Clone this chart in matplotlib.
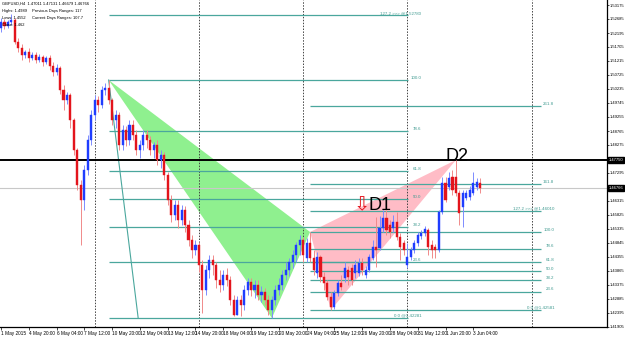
import matplotlib
matplotlib.use("Agg")
import matplotlib.pyplot as plt
from matplotlib.patches import Polygon
import numpy as np

# ---------------- data (GBPUSD, H4) ----------------
opens = [1.5237, 1.5258, 1.5244, 1.5258, 1.5265, 1.5188, 1.5167, 1.5142, 1.5153, 1.5132,
         1.5142, 1.5125, 1.5135, 1.5118, 1.5132, 1.5104, 1.5083, 1.5097, 1.5020, 1.4985,
         1.5002, 1.4915, 1.4810, 1.4688, 1.4635, 1.4740, 1.4845, 1.4932, 1.4985, 1.4967,
         1.5020, 1.5027, 1.4985, 1.4915, 1.4932, 1.4827, 1.4880, 1.4845, 1.4898, 1.4862,
         1.4810, 1.4827, 1.4862, 1.4845, 1.4810, 1.4827, 1.4775, 1.4792, 1.4722, 1.4635,
         1.4582, 1.4617, 1.4565, 1.4600, 1.4547, 1.4495, 1.4460, 1.4477, 1.4407, 1.4320,
         1.4390, 1.4425, 1.4407, 1.4355, 1.4337, 1.4372, 1.4355, 1.4285, 1.4232, 1.4285,
         1.4267, 1.4320, 1.4348, 1.4320, 1.4337, 1.4302, 1.4313, 1.4285, 1.4250, 1.4285,
         1.4320, 1.4337, 1.4372, 1.4390, 1.4418, 1.4442, 1.4477, 1.4495, 1.4432, 1.4484,
         1.4432, 1.4379, 1.4436, 1.4366, 1.4344, 1.4296, 1.4260, 1.4310, 1.4344, 1.4362,
         1.4390, 1.4397, 1.4380, 1.4380, 1.4414, 1.4372, 1.4390, 1.4432, 1.4470, 1.4467,
         1.4537, 1.4572, 1.4547, 1.4537, 1.4558, 1.4505, 1.4484, 1.4407, 1.4436, 1.4460,
         1.4484, 1.4509, 1.4520, 1.4530, 1.4477, 1.4470, 1.4460, 1.4593, 1.4694, 1.4680,
         1.4716, 1.4716, 1.4660, 1.4610, 1.4642, 1.4645, 1.4660, 1.4680, 1.4694]
highs = [1.5272, 1.5268, 1.5265, 1.5286, 1.5272, 1.5202, 1.5181, 1.5160, 1.5167, 1.5153,
         1.5153, 1.5146, 1.5142, 1.5139, 1.5142, 1.5118, 1.5111, 1.5104, 1.5037, 1.5013,
         1.5009, 1.4922, 1.4817, 1.4705, 1.4757, 1.4862, 1.4950, 1.5002, 1.4999, 1.5034,
         1.5044, 1.5055, 1.4992, 1.4950, 1.4943, 1.4898, 1.4894, 1.4915, 1.4915, 1.4880,
         1.4845, 1.4880, 1.4880, 1.4859, 1.4838, 1.4845, 1.4810, 1.4803, 1.4733, 1.4652,
         1.4635, 1.4635, 1.4617, 1.4614, 1.4565, 1.4512, 1.4495, 1.4488, 1.4425, 1.4407,
         1.4442, 1.4442, 1.4418, 1.4390, 1.4390, 1.4397, 1.4369, 1.4302, 1.4299, 1.4302,
         1.4337, 1.4362, 1.4362, 1.4355, 1.4355, 1.4334, 1.4327, 1.4302, 1.4299, 1.4337,
         1.4362, 1.4390, 1.4418, 1.4432, 1.4460, 1.4488, 1.4512, 1.4505, 1.4502, 1.4523,
         1.4460, 1.4453, 1.4442, 1.4383, 1.4355, 1.4313, 1.4320, 1.4355, 1.4372, 1.4418,
         1.4404, 1.4411, 1.4425, 1.4432, 1.4432, 1.4404, 1.4446, 1.4495, 1.4575, 1.4579,
         1.4600, 1.4600, 1.4565, 1.4582, 1.4593, 1.4520, 1.4495, 1.4484, 1.4470, 1.4495,
         1.4523, 1.4530, 1.4544, 1.4537, 1.4495, 1.4481, 1.4600, 1.4716, 1.4716, 1.4733,
         1.4740, 1.4775, 1.4670, 1.4670, 1.4670, 1.4684, 1.4733, 1.4712, 1.4712]
lows = [1.5223, 1.5233, 1.5237, 1.5247, 1.5181, 1.5153, 1.5125, 1.5132, 1.5118, 1.5125,
        1.5114, 1.5118, 1.5104, 1.5111, 1.5090, 1.5069, 1.5072, 1.5006, 1.4950, 1.4971,
        1.4887, 1.4792, 1.4670, 1.4477, 1.4600, 1.4722, 1.4827, 1.4915, 1.4943, 1.4957,
        1.5002, 1.4971, 1.4898, 1.4887, 1.4810, 1.4810, 1.4824, 1.4827, 1.4845, 1.4792,
        1.4782, 1.4810, 1.4817, 1.4792, 1.4782, 1.4757, 1.4747, 1.4705, 1.4617, 1.4558,
        1.4565, 1.4537, 1.4547, 1.4523, 1.4474, 1.4432, 1.4442, 1.4383, 1.4239, 1.4302,
        1.4362, 1.4372, 1.4327, 1.4313, 1.4320, 1.4334, 1.4267, 1.4229, 1.4232, 1.4229,
        1.4250, 1.4302, 1.4299, 1.4292, 1.4285, 1.4278, 1.4267, 1.4232, 1.4222, 1.4267,
        1.4302, 1.4320, 1.4355, 1.4369, 1.4397, 1.4418, 1.4442, 1.4418, 1.4418, 1.4418,
        1.4372, 1.4362, 1.4348, 1.4320, 1.4285, 1.4250, 1.4254, 1.4299, 1.4320, 1.4348,
        1.4337, 1.4337, 1.4362, 1.4369, 1.4372, 1.4362, 1.4383, 1.4425, 1.4400, 1.4460,
        1.4523, 1.4512, 1.4502, 1.4523, 1.4495, 1.4425, 1.4442, 1.4397, 1.4425, 1.4450,
        1.4474, 1.4498, 1.4509, 1.4442, 1.4432, 1.4432, 1.4453, 1.4586, 1.4628, 1.4670,
        1.4652, 1.4649, 1.4547, 1.4540, 1.4635, 1.4635, 1.4652, 1.4670, 1.4660]
closes = [1.5258, 1.5244, 1.5258, 1.5265, 1.5188, 1.5167, 1.5142, 1.5153, 1.5132, 1.5142,
          1.5125, 1.5135, 1.5118, 1.5132, 1.5104, 1.5083, 1.5097, 1.5020, 1.4985, 1.5002,
          1.4915, 1.4810, 1.4688, 1.4635, 1.4740, 1.4845, 1.4932, 1.4985, 1.4967, 1.5020,
          1.5027, 1.4985, 1.4915, 1.4932, 1.4827, 1.4880, 1.4845, 1.4898, 1.4862, 1.4810,
          1.4827, 1.4862, 1.4845, 1.4810, 1.4827, 1.4775, 1.4792, 1.4722, 1.4635, 1.4582,
          1.4617, 1.4565, 1.4600, 1.4547, 1.4495, 1.4460, 1.4477, 1.4407, 1.4320, 1.4390,
          1.4425, 1.4407, 1.4355, 1.4337, 1.4372, 1.4355, 1.4285, 1.4232, 1.4285, 1.4267,
          1.4320, 1.4348, 1.4320, 1.4337, 1.4302, 1.4313, 1.4285, 1.4250, 1.4285, 1.4320,
          1.4337, 1.4372, 1.4390, 1.4418, 1.4442, 1.4477, 1.4495, 1.4442, 1.4484, 1.4432,
          1.4390, 1.4436, 1.4366, 1.4344, 1.4296, 1.4260, 1.4310, 1.4344, 1.4330, 1.4397,
          1.4366, 1.4355, 1.4407, 1.4414, 1.4390, 1.4390, 1.4436, 1.4470, 1.4460, 1.4537,
          1.4572, 1.4530, 1.4523, 1.4558, 1.4505, 1.4470, 1.4460, 1.4436, 1.4460, 1.4484,
          1.4512, 1.4520, 1.4533, 1.4470, 1.4460, 1.4460, 1.4593, 1.4694, 1.4635, 1.4712,
          1.4670, 1.4660, 1.4590, 1.4660, 1.4660, 1.4670, 1.4694, 1.4698, 1.46766]

date_tick_bars = [0, 8, 16, 24, 32, 40, 48, 56, 64, 72, 80, 88, 96, 104, 112, 120, 128, 136]
date_tick_labels = ["1 May 2015", "4 May 20:00", "6 May 04:00", "7 May 12:00", "10 May 20:00",
                    "12 May 04:00", "13 May 12:00", "14 May 20:00", "18 May 04:00", "19 May 12:00",
                    "20 May 20:00", "24 May 04:00", "25 May 12:00", "26 May 20:00", "28 May 04:00",
                    "31 May 12:00", "1 Jun 20:00", "3 Jun 04:00"]
separator_bars = [27, 57, 87, 117, 153]

price_ticks = [1.53175, 1.52685, 1.52195, 1.51705, 1.51215, 1.50725, 1.50235, 1.49745,
               1.49255, 1.48765, 1.48275, 1.47785, 1.47295, 1.46805, 1.46315, 1.45825,
               1.45335, 1.44845, 1.44355, 1.43865, 1.43375, 1.42885, 1.42395, 1.41905]

# Fibonacci set A (big swing) and set B (small swing)
fibA_zero, fibA_hundred = 1.4222, 1.5055
fibA_span = (31, 117.2)
fibA_levels = [0.0, 23.6, 38.2, 50.0, 61.8, 78.6, 100.0, 127.2]
fibA_texts = ["0.0 @1.42281", "23.6", "38.2", "50.0", "61.8", "78.6", "100.0", "127.2 >>> @1.52780"]

fibB_zero, fibB_hundred = 1.4250, 1.4523
fibB_span = (89, 155.5)
fibB_levels = [0.0, 23.6, 38.2, 50.0, 61.8, 78.6, 100.0, 127.2, 161.8, 261.8]
fibB_texts = ["0.0 @1.42581", "23.6", "38.2", "50.0", "61.8", "78.6", "100.0",
              "127.2 >>> @1.46010", "161.8", "261.8"]

# harmonic pattern points (bar, price)
green_tri = [(31, 1.5055), (89, 1.4523), (78, 1.4222)]
pink_tri = [(89, 1.4523), (95, 1.4250), (131, 1.4775)]
teal_leg = [(31, 1.5055), (39.5, 1.4222)]
d2_level = 1.4775
d1_label = (105.7, 1.4600)
d1_arrow = (103.8, 1.4598)
d2_label = (127.9, 1.4772)

info_lines = [("GBPUSD,H4  1.47011 1.47131 1.46679 1.46766", ""),
              ("Highs: 1.4989", "Previous Days Ranges: 117"),
              ("Lows: 1.4552", "Current Days Ranges: 107.7"),
              ("Close: 1.462", "")]

# ---------------- drawing ----------------
plt.rcParams['font.family'] = ['Liberation Sans', 'DejaVu Sans']
fig = plt.figure(figsize=(6.25, 3.37), dpi=100)
ax = fig.add_axes([0, 10 / 337, 607 / 625, 327 / 337])

o = np.array(opens); h = np.array(highs); l = np.array(lows); c = np.array(closes)
x = np.arange(len(o))
up = c >= o

bull, bear = '#1f3dff', '#e3141c'
bull_w, bear_w = '#7d8cff', '#f08a8a'
teal = '#4aa79d'

# triangles
ax.add_patch(Polygon(green_tri, closed=True, facecolor='#8ff08f', edgecolor='none', zorder=1))
ax.add_patch(Polygon(pink_tri, closed=True, facecolor='#ffbcc6', edgecolor='none', zorder=1))

# separators
for b in separator_bars:
    ax.axvline(b, color='#444444', lw=0.7, ls=(0, (1.5, 1.5)), zorder=1.5)

# fib sets
def draw_fib(z, hnd, span, levels, texts):
    for lv, t in zip(levels, texts):
        p = z + lv / 100.0 * (hnd - z)
        ax.hlines(p, span[0], span[1], color=teal, lw=0.9, zorder=2)
        ax.annotate(t, xy=(span[1], p), xytext=(9.5, 0.2), textcoords='offset points',
                    ha='right', va='bottom', fontsize=3.2, color='#3f9a90', zorder=2)

draw_fib(fibA_zero, fibA_hundred, fibA_span, fibA_levels, fibA_texts)
draw_fib(fibB_zero, fibB_hundred, fibB_span, fibB_levels, fibB_texts)

ax.plot([p[0] for p in teal_leg], [p[1] for p in teal_leg], color=teal, lw=0.8, zorder=2)

# horizontal lines
ax.axhline(d2_level, color='black', lw=1.4, zorder=2.5)
ax.axhline(c[-1], color='#c8c8c8', lw=0.8, zorder=1.6)

# candles
ax.vlines(x[up], l[up], h[up], color=bull_w, lw=0.7, zorder=3)
ax.vlines(x[~up], l[~up], h[~up], color=bear_w, lw=0.7, zorder=3)
ax.bar(x[up], np.maximum(c[up] - o[up], 0.00012), bottom=o[up], width=0.6,
       color=bull, edgecolor=bull, lw=0.3, zorder=4)
ax.bar(x[~up], np.maximum(o[~up] - c[~up], 0.00012), bottom=c[~up], width=0.6,
       color=bear, edgecolor=bear, lw=0.3, zorder=4)

# pattern labels
ax.text(d1_label[0], d1_label[1], "D1", fontsize=13, color='black', ha='left', va='baseline', zorder=5)
ax.text(d2_label[0], d2_label[1], "D2", fontsize=13, color='black', ha='left', va='baseline', zorder=5)
ax.text(d1_arrow[0], d1_arrow[1], "\u21e9", fontsize=14, color='#e3141c', ha='center',
        va='baseline', family=['DejaVu Sans'], zorder=5)

# axes
ax.set_xlim(-0.288, 174.5)
ax.set_ylim(1.41905, 1.5335)
for s in ['top', 'left']:
    ax.spines[s].set_visible(False)
ax.spines['right'].set_linewidth(0.9)
ax.spines['bottom'].set_linewidth(0.9)

narrow = ['Liberation Sans Narrow', 'Liberation Sans', 'DejaVu Sans']
ax.yaxis.tick_right()
ax.set_yticks(price_ticks)
ax.set_yticklabels([f"{v:.5f}" for v in price_ticks], family=narrow)
ax.tick_params(axis='y', labelsize=3.0, length=1.5, width=0.5, pad=0.6, colors='black')

ax.set_xticks(date_tick_bars)
ax.set_xticklabels(date_tick_labels, family=narrow)
ax.tick_params(axis='x', labelsize=3.4, length=2, width=0.5, pad=1.2)
for lbl in ax.get_xticklabels():
    lbl.set_ha('left')

# price boxes on axis
for v in [d2_level, c[-1]]:
    ax.annotate(f"{v:.5f}", xy=(1, v), xycoords=('axes fraction', 'data'), xytext=(1.0, 0),
                textcoords='offset points', ha='left', va='center', fontsize=3.0, color='white',
                family=narrow,
                bbox=dict(boxstyle='square,pad=0.15', fc='black', ec='black'), zorder=6,
                annotation_clip=False)

# info text
for k, (a, b) in enumerate(info_lines):
    yy = 1 - (4 + 7 * k) / 327
    ax.text(2 / 607, yy, a, transform=ax.transAxes, fontsize=2.9, va='center', ha='left', zorder=6)
    if b:
        ax.text(32 / 607, yy, b, transform=ax.transAxes, fontsize=2.9, va='center', ha='left', zorder=6)

fig.savefig("out.png", dpi=100)
